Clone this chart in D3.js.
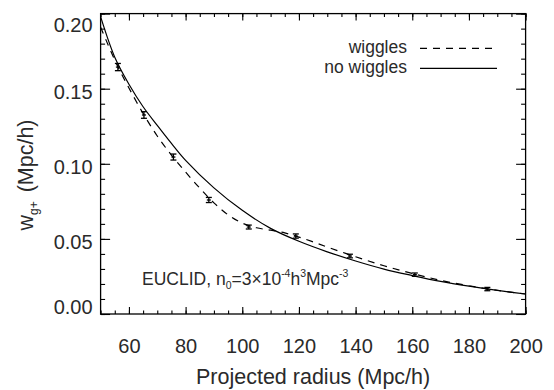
<!DOCTYPE html>
<html>
<head>
<meta charset="utf-8">
<script src="https://cdn.jsdelivr.net/npm/d3@7"></script>
<style>
  html, body { margin: 0; padding: 0; background: #fff; }
  svg { display: block; font-family: "Liberation Sans", Arial, Helvetica, sans-serif; }
</style>
</head>
<body>
<svg id="chart" width="554" height="390"></svg>
<script>
// ---- data ----
const xTickValues = [60, 80, 100, 120, 140, 160, 180, 200];
const yTickValues = [0.00, 0.05, 0.10, 0.15, 0.20];
const yTickLabels = ["0.00", "0.05", "0.10", "0.15", "0.20"];

// measured points with error bars
const pointR   = [56.1, 65.3, 75.7, 88.2, 102.3, 118.9, 138.0, 160.9, 186.5];
const pointW   = [0.1644, 0.1325, 0.1045, 0.0759, 0.0579, 0.0519, 0.0386, 0.0262, 0.0166];
const pointErr = [0.0024, 0.0022, 0.0020, 0.0017, 0.0013, 0.0014, 0.0012, 0.0011, 0.0011];

// model with BAO wiggles (dashed)
const wigglesR = [50, 52, 56, 60, 65, 70, 75, 80, 85, 90, 95, 100, 105, 110, 115, 120, 125, 130, 140, 150, 160, 170, 180, 190, 200];
const wigglesW = [0.191, 0.182, 0.165, 0.1505, 0.1335, 0.1185, 0.1058, 0.0945, 0.0838, 0.0740, 0.0660, 0.0605, 0.0574, 0.0558, 0.0540, 0.0512, 0.0480, 0.0446, 0.0381, 0.0321, 0.0270, 0.0224, 0.0188, 0.0158, 0.0133];

// model without wiggles (solid)
const noWigglesR = [50, 55, 60, 65, 70, 75, 80, 90, 100, 110, 120, 130, 140, 150, 160, 170, 180, 190, 200];
const noWigglesW = [0.198, 0.171, 0.153, 0.138, 0.1256, 0.1136, 0.1023, 0.0840, 0.0690, 0.0570, 0.0484, 0.0414, 0.0353, 0.0299, 0.0256, 0.0217, 0.0185, 0.0157, 0.0133];

const legendLabels = ["wiggles", "no wiggles"];

// ---- layout ----
const svg = d3.select("#chart");
const L = 100.6, R = 525.6, T = 13.6, B = 314;
const x = d3.scaleLinear().domain([50, 200]).range([L, R]);
const y = d3.scaleLinear().domain([0, 0.2]).range([B, T]);
const ink = "#000";
const textCol = "#2a2a2a";

// frame
svg.append("rect").attr("x", L).attr("y", T).attr("width", R - L).attr("height", B - T)
  .attr("fill", "none").attr("stroke", ink).attr("stroke-width", 1.3);

const xMinor = d3.range(50, 200.01, 5);
const yMinor = d3.range(0, 0.2001, 0.01);

function styleAxis(g) {
  g.select(".domain").remove();
  g.selectAll(".tick line").attr("stroke", ink).attr("stroke-width", 1.1);
}

// bottom axis: minor + major
svg.append("g").attr("transform", `translate(0,${B})`)
  .call(d3.axisBottom(x).tickValues(xMinor).tickSize(-3.5).tickFormat(""))
  .call(styleAxis);
const xAx = svg.append("g").attr("transform", `translate(0,${B})`)
  .call(d3.axisBottom(x).tickValues(xTickValues).tickSize(-7).tickPadding(25).tickFormat(d3.format("d")))
  .call(styleAxis);
xAx.selectAll("text").attr("font-size", 20).attr("fill", textCol)
  .attr("font-family", "'Liberation Sans', Arial, sans-serif");

// top axis ticks
svg.append("g").attr("transform", `translate(0,${T})`)
  .call(d3.axisTop(x).tickValues(xMinor).tickSize(-3.5).tickFormat(""))
  .call(styleAxis);
svg.append("g").attr("transform", `translate(0,${T})`)
  .call(d3.axisTop(x).tickValues(xTickValues).tickSize(-7).tickFormat(""))
  .call(styleAxis);

// left axis
svg.append("g").attr("transform", `translate(${L},0)`)
  .call(d3.axisLeft(y).tickValues(yMinor).tickSize(-4.5).tickFormat(""))
  .call(styleAxis);
const yAx = svg.append("g").attr("transform", `translate(${L},0)`)
  .call(d3.axisLeft(y).tickValues(yTickValues).tickSize(-9.5).tickPadding(8)
        .tickFormat((d, i) => yTickLabels[i]))
  .call(styleAxis);
yAx.selectAll("text").attr("font-size", 20).attr("fill", textCol)
  .attr("font-family", "'Liberation Sans', Arial, sans-serif")
  .attr("x", -8)
  .attr("dy", (d, i) => i === 0 ? "-0.02em" : (i === yTickValues.length - 1 ? "0.87em" : "0.48em"));

// right axis ticks
svg.append("g").attr("transform", `translate(${R},0)`)
  .call(d3.axisRight(y).tickValues(yMinor).tickSize(-4.5).tickFormat(""))
  .call(styleAxis);
svg.append("g").attr("transform", `translate(${R},0)`)
  .call(d3.axisRight(y).tickValues(yTickValues).tickSize(-9.5).tickFormat(""))
  .call(styleAxis);

// axis titles
svg.append("text").attr("x", (L + R) / 2).attr("y", 384)
  .attr("text-anchor", "middle").attr("font-size", 21.5).attr("fill", textCol)
  .text("Projected radius (Mpc/h)");

const yt = svg.append("text").attr("transform", "translate(33,175) rotate(-90)")
  .attr("text-anchor", "middle").attr("font-size", 21.5).attr("fill", textCol);
yt.append("tspan").text("w");
yt.append("tspan").attr("font-size", 12).attr("dy", 5).text("g+");
yt.append("tspan").attr("dy", -5).attr("dx", 3).text(" (Mpc/h)");

// clip
svg.append("clipPath").attr("id", "clip").append("rect")
  .attr("x", L).attr("y", T).attr("width", R - L).attr("height", B - T);

const line = d3.line().x(d => x(d[0])).y(d => y(d[1])).curve(d3.curveCatmullRom.alpha(0.5));

svg.append("path").datum(wigglesR.map((r, i) => [r, wigglesW[i]]))
  .attr("d", line).attr("fill", "none").attr("stroke", ink).attr("stroke-width", 1.2)
  .attr("stroke-dasharray", "7,6").attr("clip-path", "url(#clip)");

svg.append("path").datum(noWigglesR.map((r, i) => [r, noWigglesW[i]]))
  .attr("d", line).attr("fill", "none").attr("stroke", ink).attr("stroke-width", 1.2)
  .attr("clip-path", "url(#clip)");

// error bars
const eb = svg.append("g").attr("stroke", ink).attr("stroke-width", 1.3);
pointR.forEach((r, i) => {
  const cx = x(r), y0 = y(pointW[i] - pointErr[i]), y1 = y(pointW[i] + pointErr[i]);
  eb.append("line").attr("x1", cx).attr("x2", cx).attr("y1", y0).attr("y2", y1);
  eb.append("line").attr("x1", cx - 3).attr("x2", cx + 3).attr("y1", y0).attr("y2", y0);
  eb.append("line").attr("x1", cx - 3).attr("x2", cx + 3).attr("y1", y1).attr("y2", y1);
  eb.append("line").attr("x1", cx - 2).attr("x2", cx + 2).attr("y1", y(pointW[i])).attr("y2", y(pointW[i]));
});

// legend
const lg = svg.append("g");
[["7,6", 48.3], [null, 68.3]].forEach((s, i) => {
  lg.append("text").attr("x", 407).attr("y", s[1] + 5).attr("text-anchor", "end")
    .attr("font-size", 17.5).attr("fill", textCol).text(legendLabels[i]);
  const ln = lg.append("line").attr("x1", 420).attr("x2", 497).attr("y1", s[1]).attr("y2", s[1])
    .attr("stroke", ink).attr("stroke-width", 1.2);
  if (s[0]) ln.attr("stroke-dasharray", s[0]);
});

// annotation
const an = svg.append("text").attr("x", 142).attr("y", 285).attr("font-size", 17.5).attr("fill", textCol);
an.append("tspan").text("EUCLID, n");
an.append("tspan").attr("font-size", 10.5).attr("dy", 4).text("0");
an.append("tspan").attr("dy", -4).text("=3\u00d710");
an.append("tspan").attr("font-size", 10.5).attr("dy", -8).text("-4");
an.append("tspan").attr("dy", 8).text("h");
an.append("tspan").attr("font-size", 10.5).attr("dy", -8).text("3");
an.append("tspan").attr("dy", 8).text("Mpc");
an.append("tspan").attr("font-size", 10.5).attr("dy", -8).text("-3");
</script>
</body>
</html>
